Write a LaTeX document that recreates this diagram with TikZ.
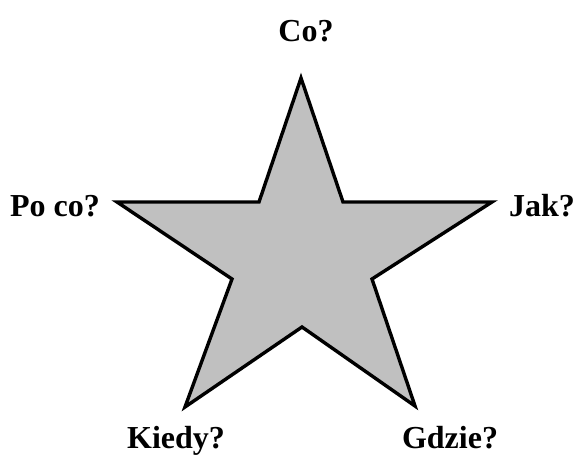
\documentclass[tikz,border=0pt]{standalone}
\usepackage{fontspec}
\setmainfont{Liberation Serif}
\definecolor{cstar}{HTML}{C0C0C0}
\tikzset{
  pyt/.style={anchor=base, inner sep=0pt, font=\fontsize{32}{38}\selectfont\bfseries},
  gwiazda/.style={draw=black, fill=cstar, line width=3.4pt, line join=miter},
}
\begin{document}
\begin{tikzpicture}[x=1pt, y=-1pt]
  \useasboundingbox (0,0) rectangle (577,455);
  % star
  \draw[gwiazda] (301,78) -- (343,202) -- (492,202) -- (372,279) -- (415,406)
    -- (302,327) -- (185,407) -- (232,279) -- (117,202) -- (259,202) -- cycle;
  % questions
  \node[pyt] (co) at (306,41) {Co?};
  \node[pyt] (poco) at (55,216) {Po co?};
  \node[pyt] (jak) at (542,216) {Jak?};
  \node[pyt] (kiedy) at (176,448) {Kiedy?};
  \node[pyt] (gdzie) at (450,448) {Gdzie?};
\end{tikzpicture}
\end{document}
